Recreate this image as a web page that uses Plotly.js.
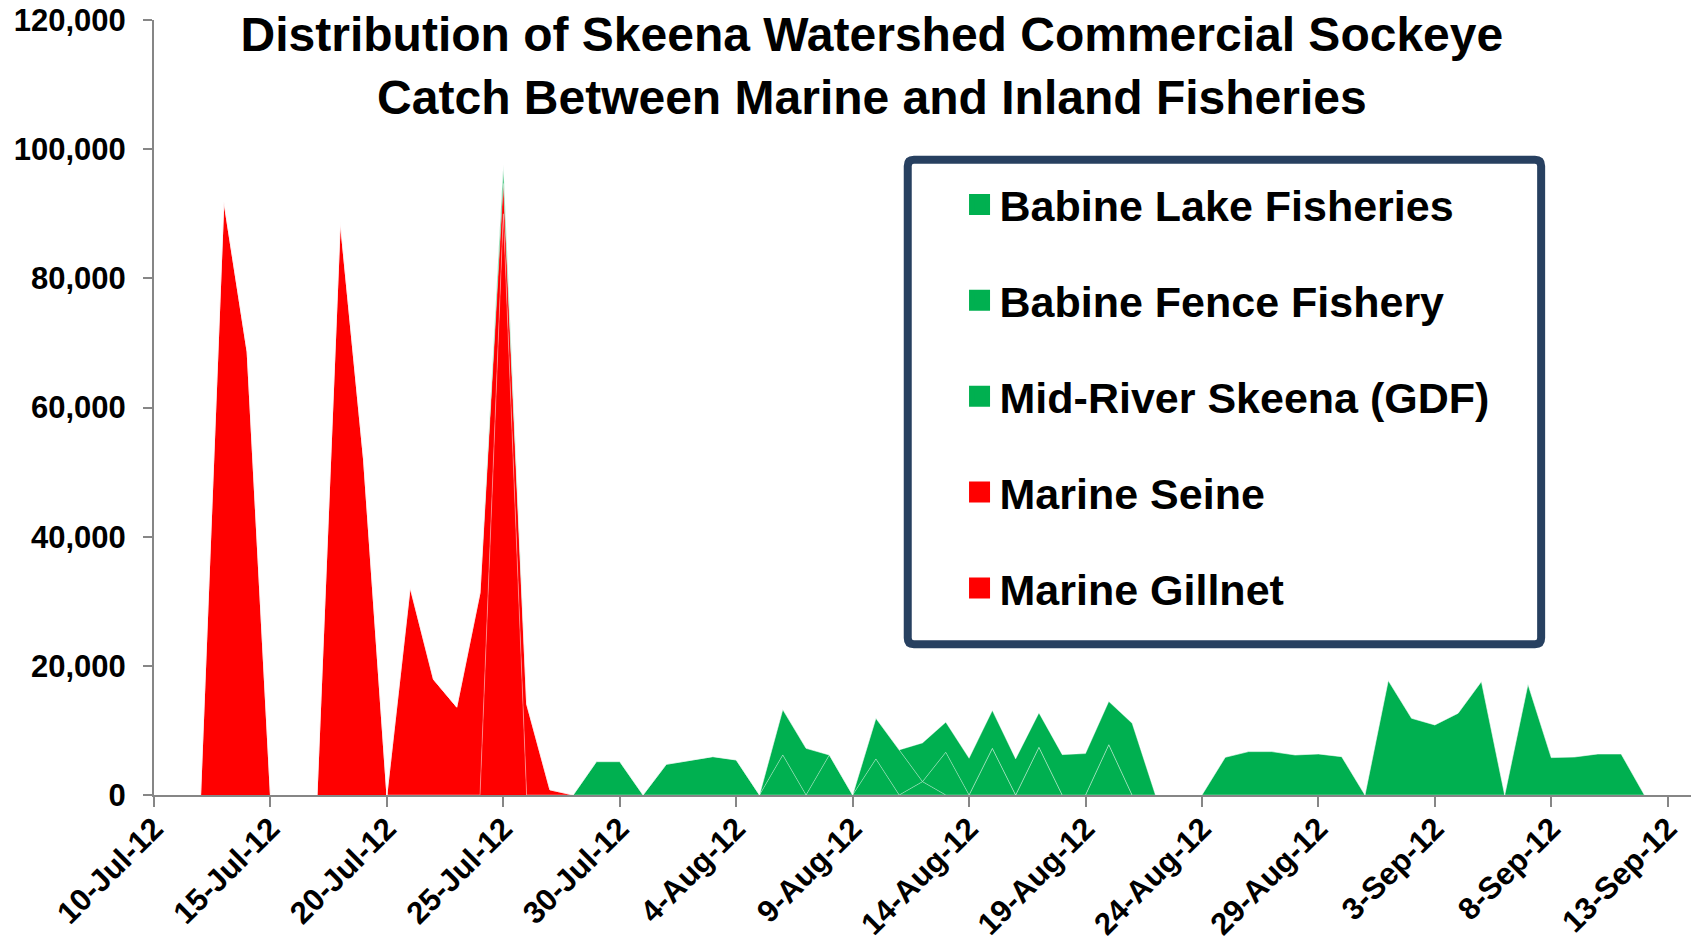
<!DOCTYPE html>
<html>
<head>
<meta charset="utf-8">
<script src="https://cdn.plot.ly/plotly-3.0.1.min.js"></script>
<style>
  html, body { margin: 0; padding: 0; background: #ffffff; }
  #chart { width: 1693px; height: 941px; }
</style>
</head>
<body>
<div id="chart"></div>
<script>
// ---- Data ----
const dates = [
  '2012-07-12','2012-07-13','2012-07-14','2012-07-15','2012-07-16','2012-07-17','2012-07-18','2012-07-19','2012-07-20',
  '2012-07-21','2012-07-22','2012-07-23','2012-07-24','2012-07-25','2012-07-26','2012-07-27','2012-07-28','2012-07-29',
  '2012-07-30','2012-07-31',
  '2012-08-01','2012-08-02','2012-08-03','2012-08-04','2012-08-05','2012-08-06','2012-08-07','2012-08-08','2012-08-09',
  '2012-08-10','2012-08-11','2012-08-12','2012-08-13','2012-08-14','2012-08-15','2012-08-16','2012-08-17','2012-08-18',
  '2012-08-19','2012-08-20','2012-08-21','2012-08-22','2012-08-23','2012-08-24','2012-08-25','2012-08-26','2012-08-27',
  '2012-08-28','2012-08-29','2012-08-30','2012-08-31',
  '2012-09-01','2012-09-02','2012-09-03','2012-09-04','2012-09-05','2012-09-06','2012-09-07','2012-09-08','2012-09-09',
  '2012-09-10','2012-09-11','2012-09-12'
];

//                      Jul 12 ........................................................................ Jul 31
const marineGillnet = [0, 91900, 68600, 0, 0, 0, 88700, 51900, 0, 0, 0, 0, 0, 90000, 0, 0, 0, 0, 0, 0,
//                      Aug 1 ......................................................................................... Aug 31
                       0, 0, 0, 0, 0, 0, 0, 0, 0, 0, 0, 0, 0, 0, 0, 0, 0, 0, 0, 0, 0, 0, 0, 0, 0, 0, 0, 0, 0, 0, 0,
//                      Sep 1 .................................. Sep 12
                       0, 0, 0, 0, 0, 0, 0, 0, 0, 0, 0, 0];

const marineSeine   = [0, 0, 0, 0, 0, 0, 0, 0, 0, 32100, 17900, 13600, 31300, 4700, 14100, 800, 0, 0, 0, 0,
                       0, 0, 0, 0, 0, 0, 0, 0, 0, 0, 0, 0, 0, 0, 0, 0, 0, 0, 0, 0, 0, 0, 0, 0, 0, 0, 0, 0, 0, 0, 0,
                       0, 0, 0, 0, 0, 0, 0, 0, 0, 0, 0, 0];

const midRiverGDF   = [0, 0, 0, 0, 0, 0, 0, 0, 0, 0, 0, 0, 0, 2900, 0, 0, 0, 5170, 5170, 0,
                       4750, 5320, 5940, 5425, 0, 6200, 0, 6200, 0, 5580, 0, 2070, 0, 0, 7230, 0, 7390, 0, 0, 7800, 0, 0, 0, 0, 0, 0, 0, 0, 0, 0, 0,
                       0, 0, 0, 0, 0, 0, 0, 0, 0, 0, 0, 0];

const babineFence   = [0, 0, 0, 0, 0, 0, 0, 0, 0, 0, 0, 0, 0, 0, 0, 0, 0, 0, 0, 0,
                       0, 0, 0, 0, 0, 7030, 7230, 0, 0, 6300, 6980, 0, 6610, 0, 0, 0, 0, 0, 0, 0, 0, 0, 0, 0, 5840, 6720, 6720, 6200, 6360, 5940, 0,
                       17720, 11880, 10850, 12660, 17570, 0, 17150, 5790, 5890, 6360, 6360, 0];

const babineLake    = [0, 0, 0, 0, 0, 0, 0, 0, 0, 0, 0, 0, 0, 0, 0, 0, 0, 0, 0, 0,
                       0, 0, 0, 0, 0, 0, 0, 0, 0, 0, 0, 5990, 4650, 5680, 5840, 5580, 5320, 6250, 6410, 6670, 11110, 0, 0, 0, 0, 0, 0, 0, 0, 0, 0,
                       0, 0, 0, 0, 0, 0, 0, 0, 0, 0, 0, 0];

// Stack order bottom -> top; legend order top -> bottom
const seriesNames  = ['Marine Gillnet', 'Marine Seine', 'Mid-River Skeena (GDF)', 'Babine Fence Fishery', 'Babine Lake Fisheries'];
const seriesValues = [marineGillnet, marineSeine, midRiverGDF, babineFence, babineLake];
const seriesColors = ['#FF0000', '#FF0000', '#00B050', '#00B050', '#00B050'];
const legendOrder  = ['Babine Lake Fisheries', 'Babine Fence Fishery', 'Mid-River Skeena (GDF)', 'Marine Seine', 'Marine Gillnet'];

const titleText = 'Distribution of Skeena Watershed Commercial Sockeye<br>Catch Between Marine and Inland Fisheries';

// ---- Traces ----
const traces = [];
seriesNames.forEach((name, i) => {
  traces.push({
    type: 'scatter',
    mode: 'lines',
    name: name,
    x: dates,
    y: seriesValues[i],
    stackgroup: 'catch',
    fillcolor: seriesColors[i],
    line: { color: 'rgba(255,255,255,0.45)', width: 0.8, shape: 'linear' },
    showlegend: false,
    hoverinfo: 'x+y+name'
  });
});
legendOrder.forEach((name, k) => {
  const i = seriesNames.indexOf(name);
  traces.push({
    type: 'scatter',
    mode: 'markers',
    name: name,
    x: [null],
    y: [null],
    legendgroup: 'g' + k,
    marker: { symbol: 'square', size: 16, color: seriesColors[i], line: { color: seriesColors[i], width: 5 } },
    showlegend: true,
    hoverinfo: 'skip'
  });
});

// ---- Layout ----
const axisGray = '#868686';
const fontFam = 'Liberation Sans, Arial, Helvetica, sans-serif';

// legend frame (rounded rectangle) in paper coords
const bx0 = 0.4904, bx1 = 0.9025, by0 = 0.1946, by1 = 0.8196;
const rx = 0.004, ry = 0.008;
const framePath = `M ${bx0+rx},${by1} L ${bx1-rx},${by1} Q ${bx1},${by1} ${bx1},${by1-ry} ` +
                  `L ${bx1},${by0+ry} Q ${bx1},${by0} ${bx1-rx},${by0} ` +
                  `L ${bx0+rx},${by0} Q ${bx0},${by0} ${bx0},${by0+ry} ` +
                  `L ${bx0},${by1-ry} Q ${bx0},${by1} ${bx0+rx},${by1} Z`;

const layout = {
  width: 1693,
  height: 941,
  margin: { l: 154, r: 2, t: 20, b: 146 },
  paper_bgcolor: '#ffffff',
  plot_bgcolor: '#ffffff',
  font: { family: fontFam, color: '#000000' },
  title: {
    text: titleText,
    font: { family: fontFam, size: 48, weight: 'bold', color: '#000000' },
    xref: 'container', x: 0.515, xanchor: 'center',
    yref: 'container', y: 0.9454, yanchor: 'middle'
  },
  xaxis: {
    type: 'date',
    range: ['2012-07-10', '2012-09-14'],
    tick0: '2012-07-10',
    dtick: 5 * 86400000,
    tickformat: '%-d-%b-%y',
    tickangle: -45,
    ticks: 'outside',
    ticklen: 10,
    tickwidth: 2,
    tickcolor: axisGray,
    ticklabelstandoff: -9,
    showline: true,
    linecolor: axisGray,
    linewidth: 2,
    showgrid: false,
    zeroline: false,
    tickfont: { family: fontFam, size: 31, weight: 'bold', color: '#000000' },
    fixedrange: true
  },
  yaxis: {
    range: [0, 120000],
    tick0: 0,
    dtick: 20000,
    tickformat: ',d',
    ticks: 'outside',
    ticklen: 9,
    tickwidth: 2,
    tickcolor: axisGray,
    ticklabelstandoff: 11,
    showline: true,
    linecolor: axisGray,
    linewidth: 2,
    showgrid: false,
    zeroline: false,
    tickfont: { family: fontFam, size: 31, weight: 'bold', color: '#000000' },
    fixedrange: true
  },
  showlegend: true,
  legend: {
    x: 0.5241, xanchor: 'left',
    y: 0.8065, yanchor: 'top',
    bgcolor: 'rgba(0,0,0,0)',
    borderwidth: 0,
    traceorder: 'grouped',
    tracegroupgap: 37,
    itemclick: false,
    itemdoubleclick: false,
    font: { family: fontFam, size: 43, weight: 'bold', color: '#000000' }
  },
  shapes: [{
    type: 'path',
    xref: 'paper', yref: 'paper',
    path: framePath,
    line: { color: '#274060', width: 8 },
    fillcolor: 'rgba(0,0,0,0)'
  }]
};

Plotly.newPlot('chart', traces, layout, { displayModeBar: false, staticPlot: true });
</script>
</body>
</html>
